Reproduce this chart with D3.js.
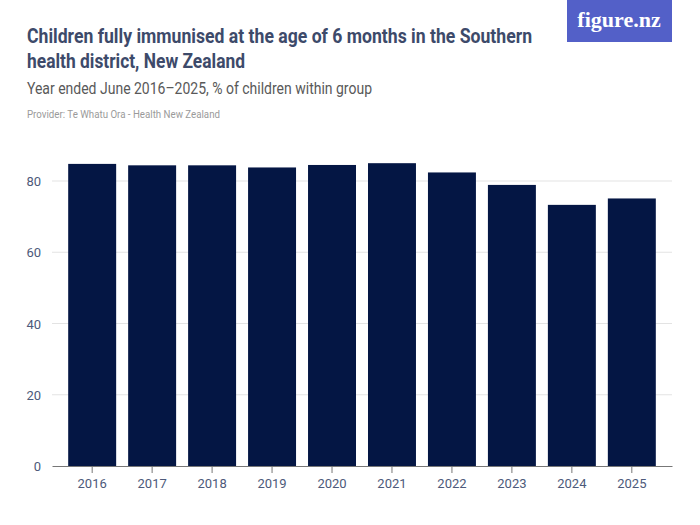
<!DOCTYPE html>
<html>
<head>
<meta charset="utf-8">
<script src="https://cdn.jsdelivr.net/npm/d3@7"></script>
<style>
 body { margin: 0; background: #fff; }
 svg { display: block; }
 text { font-family: "Liberation Sans Narrow", "Roboto", "Liberation Sans", sans-serif; }
</style>
</head>
<body>
<div id="chart"></div>
<script>
// data
const years = ["2016", "2017", "2018", "2019", "2020", "2021", "2022", "2023", "2024", "2025"];
const immunised = [84.8, 84.4, 84.4, 83.8, 84.5, 85.0, 82.4, 78.9, 73.3, 75.1];
const yTicks = [0, 20, 40, 60, 80];

const W = 700, H = 525;
const svg = d3.select("#chart").append("svg")
  .attr("width", W).attr("height", H);

// header
const titleLines = ["Children fully immunised at the age of 6 months in the Southern",
                    "health district, New Zealand"];
const titleW = [505, 218];
svg.selectAll("text.title").data(titleLines).enter().append("text")
  .attr("class", "title")
  .attr("x", 27).attr("y", (d, i) => 43 + i * 25)
  .attr("font-size", 21).attr("font-weight", "bold")
  .attr("fill", "#3d4a6a")
  .attr("textLength", (d, i) => titleW[i]).attr("lengthAdjust", "spacingAndGlyphs")
  .text(d => d);

svg.append("text")
  .attr("x", 27).attr("y", 94)
  .attr("font-size", 16).attr("fill", "#595959")
  .attr("textLength", 345).attr("lengthAdjust", "spacingAndGlyphs")
  .text("Year ended June 2016–2025, % of children within group");

svg.append("text")
  .attr("x", 27).attr("y", 118)
  .attr("font-size", 11).attr("fill", "#9a9a9a")
  .attr("textLength", 193).attr("lengthAdjust", "spacingAndGlyphs")
  .text("Provider: Te Whatu Ora - Health New Zealand");

// logo
svg.append("rect")
  .attr("x", 567).attr("y", 0).attr("width", 105).attr("height", 42)
  .attr("fill", "#5360c8");
svg.append("text")
  .attr("x", 619).attr("y", 27)
  .attr("text-anchor", "middle")
  .attr("font-size", 22).attr("font-weight", "bold")
  .attr("fill", "#fff")
  .style("font-family", "'Liberation Serif', 'DejaVu Serif', serif")
  .text("figure.nz");

// scales
const x = d3.scaleBand().domain(years).range([52, 672])
  .paddingInner(0.2).paddingOuter(0.27);
const y = d3.scaleLinear().domain([0, 80]).range([466, 181]);

// gridlines
svg.append("g").selectAll("line").data(yTicks.filter(d => d > 0)).enter().append("line")
  .attr("x1", 52).attr("x2", 672)
  .attr("y1", d => y(d)).attr("y2", d => y(d))
  .attr("stroke", "#e3e3e3").attr("stroke-width", 1);

// y labels
svg.append("g").selectAll("text").data(yTicks).enter().append("text")
  .attr("x", 41).attr("y", d => y(d) + 5)
  .attr("text-anchor", "end")
  .attr("font-size", 13).attr("fill", "#4d5a7a")
  .text(d => d);

// bars
svg.append("g").selectAll("rect").data(immunised).enter().append("rect")
  .attr("x", (d, i) => x(years[i]))
  .attr("y", d => y(d))
  .attr("width", x.bandwidth())
  .attr("height", d => y(0) - y(d))
  .attr("fill", "#041644");

// x axis
const xAxis = svg.append("g")
  .attr("transform", `translate(0,${y(0)})`)
  .call(d3.axisBottom(x).tickSize(7).tickSizeOuter(0));
xAxis.select(".domain").attr("stroke", "#777");
xAxis.selectAll(".tick line").attr("stroke", "#777");
xAxis.selectAll(".tick text")
  .attr("y", 13)
  .attr("font-size", 13).attr("fill", "#4d5a7a")
  .style("font-family", "'Liberation Sans Narrow', 'Roboto', sans-serif");
</script>
</body>
</html>
